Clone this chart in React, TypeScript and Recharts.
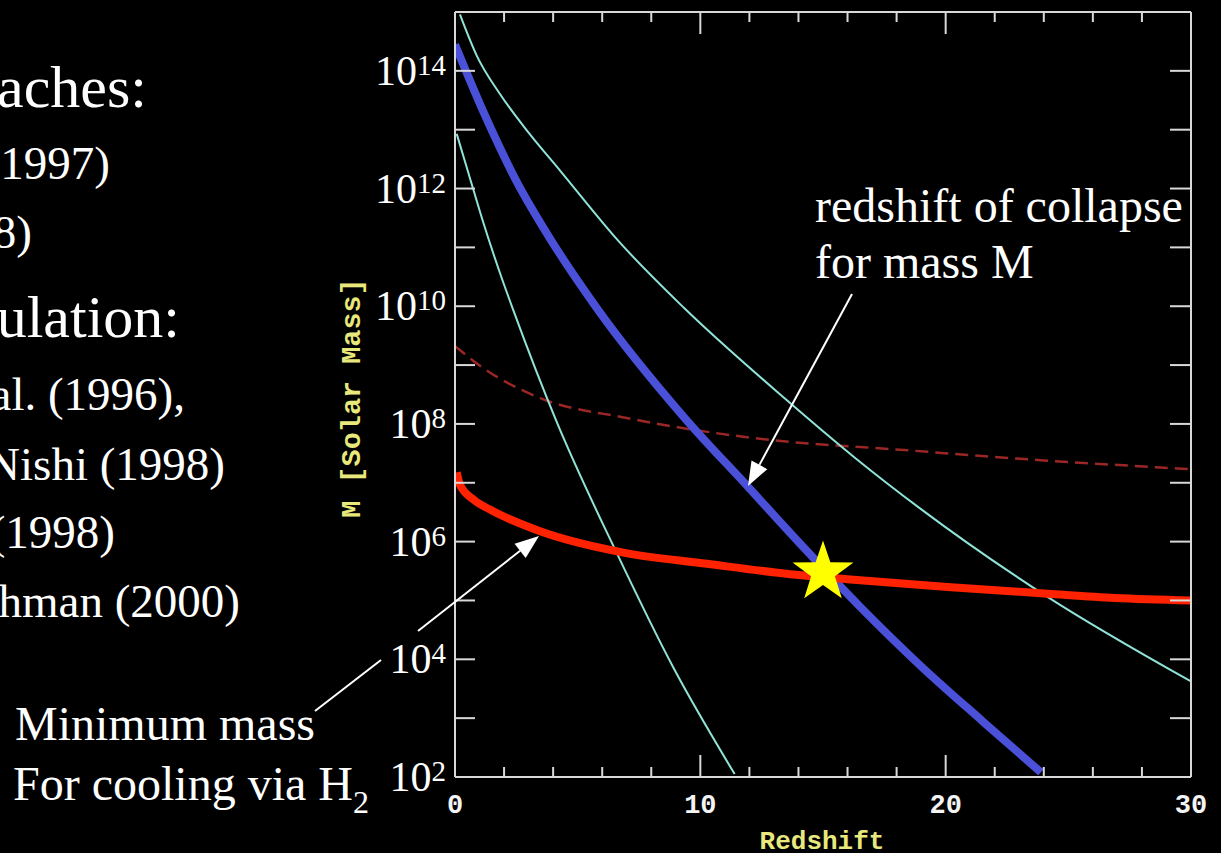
import React from "react";
import { LineChart, Line, XAxis, YAxis, ReferenceDot } from "recharts";

// redshift (z) and mass (solar masses)
const collapseZ = [0, 1.16, 2.52, 3.88, 5.78, 9.32, 11.97, 14.08, 16.5, 19, 21.5, 23.88];
const collapseM = [2.8e14, 2.0e13, 1.3e12, 1.4e11, 9.3e9, 1.32e8, 8.3e6, 9.1e5, 7.9e4, 7.6e3, 890, 120];

const cyanHighZ = [0.2, 0.89, 1.84, 3.0, 4.29, 6.65, 9.32, 13.54, 16.26, 18.98, 24.15, 30];
const cyanHighM = [9.1e14, 1.8e14, 4.0e13, 8.9e12, 2.0e12, 1.3e11, 9.5e9, 2.5e8, 2.75e7, 3.6e6, 1.15e5, 4.2e3];

const cyanLowZ = [0.07, 0.61, 1.16, 1.84, 2.38, 4.15, 6.6, 8.91, 11.4];
const cyanLowM = [8.5e12, 1.5e12, 2.6e11, 3.6e10, 8.5e9, 1.07e8, 6.3e5, 7.1e3, 112];

const dashedZ = [0, 1.15, 3.47, 7.0, 12.18, 18.7, 24, 30];
const dashedM = [2.1e9, 8.9e8, 2.75e8, 1.26e8, 5.75e7, 3.5e7, 2.4e7, 1.7e7];

const minMassZ = [0.07, 0.2, 0.75, 1.43, 3.47, 6.87, 10.27, 13.67, 15.99, 20.07, 24.15, 26.9, 30];
const minMassM = [1.5e7, 9.3e6, 5.2e6, 3.5e6, 1.5e6, 6.5e5, 4.2e5, 2.8e5, 2.3e5, 1.7e5, 1.3e5, 1.1e5, 1.0e5];

const starZ = 15.0;
const starM = 3.0e5;

const zTicks = [0, 2, 4, 6, 8, 10, 12, 14, 16, 18, 20, 22, 24, 26, 28, 30];
const massTicks = [1e2, 1e3, 1e4, 1e5, 1e6, 1e7, 1e8, 1e9, 1e10, 1e11, 1e12, 1e13, 1e14];

const rows = (zs: number[], ms: number[]) => zs.map((z, i) => ({ z, m: ms[i] }));

const AXIS = "#d8d8d8";
const SERIF = "'Liberation Serif', 'Times New Roman', serif";
const MONO = "'Liberation Mono', 'Courier New', monospace";
const YELLOW = "#e8e87c";

const LeftTick = ({ x, y, payload }: any) => {
  const exp = Math.round(Math.log10(payload.value));
  return (
    <g>
      <line x1={x} x2={x + 20} y1={y} y2={y} stroke={AXIS} strokeWidth={2} />
      {exp % 2 === 0 && (
        <text x={x - 9} y={y + 14} textAnchor="end" fill="#fff" fontFamily={SERIF} fontSize={42}>
          10
          <tspan dy={-10} fontSize={29}>
            {exp}
          </tspan>
        </text>
      )}
    </g>
  );
};

const RightTick = ({ x, y }: any) => (
  <line x1={x - 21} x2={x} y1={y} y2={y} stroke={AXIS} strokeWidth={2} />
);

const BottomTick = ({ x, y, payload }: any) => {
  const major = payload.value % 10 === 0;
  return (
    <g>
      <line x1={x} x2={x} y1={y} y2={y - (major ? 22 : 10)} stroke={AXIS} strokeWidth={2} />
      {major && (
        <text x={x} y={y + 36} textAnchor="middle" fill="#f4f4f4" fontFamily={MONO} fontWeight="bold" fontSize={27}>
          {payload.value}
        </text>
      )}
    </g>
  );
};

const TopTick = ({ x, y, payload }: any) => {
  const major = payload.value % 10 === 0;
  return <line x1={x} x2={x} y1={y} y2={y + (major ? 22 : 10)} stroke={AXIS} strokeWidth={2} />;
};

const Star = ({ cx, cy }: any) => {
  const pts = Array.from({ length: 10 }, (_, i) => {
    const a = -Math.PI / 2 + (i * Math.PI) / 5;
    const r = i % 2 === 0 ? 32 : 12.5;
    return `${cx + r * Math.cos(a)},${cy + r * Math.sin(a)}`;
  }).join(" ");
  return <polygon points={pts} fill="#ffff00" />;
};

const Arrow = ({ x1, y1, x2, y2 }: any) => {
  const len = Math.hypot(x2 - x1, y2 - y1);
  const ux = (x2 - x1) / len;
  const uy = (y2 - y1) / len;
  const bx = x2 - ux * 24;
  const by = y2 - uy * 24;
  const head = `${x2},${y2} ${bx - uy * 9},${by + ux * 9} ${bx + uy * 9},${by - ux * 9}`;
  return (
    <g>
      <line x1={x1} y1={y1} x2={bx} y2={by} stroke="#fff" strokeWidth={2} />
      <polygon points={head} fill="#fff" />
    </g>
  );
};

// slide text left of the plot, cut off at the page edge
const slideLines = [
  { text: "aches:", right: 147, base: 107, size: 60 },
  { text: "1997)", right: 110, base: 179, size: 47 },
  { text: "8)", right: 32, base: 248, size: 47 },
  { text: "ulation:", right: 180, base: 337, size: 60 },
  { text: "al. (1996),", right: 185, base: 410, size: 47 },
  { text: "Nishi (1998)", right: 225, base: 480, size: 47 },
  { text: "(1998)", right: 115, base: 548, size: 47 },
  { text: "hman (2000)", right: 240, base: 617, size: 47 },
];

export default function App() {
  return (
    <div style={{ position: "absolute", left: 0, top: 0, width: 1221, height: 853, background: "#000", overflow: "hidden" }}>
      <LineChart width={1221} height={853} margin={{ top: 0, right: 0, bottom: 0, left: 355 }}>
        <XAxis
          xAxisId="b"
          dataKey="z"
          type="number"
          domain={[0, 30]}
          ticks={zTicks}
          interval={0}
          allowDataOverflow
          height={76}
          tickSize={0}
          tickMargin={0}
          axisLine={{ stroke: AXIS, strokeWidth: 2 }}
          tickLine={false}
          tick={<BottomTick />}
        />
        <XAxis
          xAxisId="t"
          orientation="top"
          dataKey="z"
          type="number"
          domain={[0, 30]}
          ticks={zTicks}
          interval={0}
          allowDataOverflow
          height={12}
          tickSize={0}
          tickMargin={0}
          axisLine={{ stroke: AXIS, strokeWidth: 2 }}
          tickLine={false}
          tick={<TopTick />}
        />
        <YAxis
          yAxisId="l"
          type="number"
          scale="log"
          domain={[1e2, 1e15]}
          ticks={massTicks}
          interval={0}
          allowDataOverflow
          width={100}
          tickSize={0}
          tickMargin={0}
          axisLine={{ stroke: AXIS, strokeWidth: 2 }}
          tickLine={false}
          tick={<LeftTick />}
        />
        <YAxis
          yAxisId="r"
          orientation="right"
          type="number"
          scale="log"
          domain={[1e2, 1e15]}
          ticks={massTicks}
          interval={0}
          allowDataOverflow
          width={30}
          tickSize={0}
          tickMargin={0}
          axisLine={{ stroke: AXIS, strokeWidth: 2 }}
          tickLine={false}
          tick={<RightTick />}
        />
        <Line
          xAxisId="b"
          yAxisId="l"
          data={rows(dashedZ, dashedM)}
          dataKey="m"
          type="monotone"
          stroke="#9a2626"
          strokeWidth={2.5}
          strokeDasharray="13 7"
          dot={false}
          isAnimationActive={false}
        />
        <Line
          xAxisId="b"
          yAxisId="l"
          data={rows(cyanHighZ, cyanHighM)}
          dataKey="m"
          type="monotone"
          stroke="#8fe3d8"
          strokeWidth={2}
          dot={false}
          isAnimationActive={false}
        />
        <Line
          xAxisId="b"
          yAxisId="l"
          data={rows(cyanLowZ, cyanLowM)}
          dataKey="m"
          type="monotone"
          stroke="#8fe3d8"
          strokeWidth={2}
          dot={false}
          isAnimationActive={false}
        />
        <Line
          xAxisId="b"
          yAxisId="l"
          data={rows(collapseZ, collapseM)}
          dataKey="m"
          type="monotone"
          stroke="#4a50d8"
          strokeWidth={8}
          dot={false}
          isAnimationActive={false}
        />
        <Line
          xAxisId="b"
          yAxisId="l"
          data={rows(minMassZ, minMassM)}
          dataKey="m"
          type="monotone"
          stroke="#ff2200"
          strokeWidth={8}
          dot={false}
          isAnimationActive={false}
        />
        <ReferenceDot
          xAxisId="b"
          yAxisId="l"
          x={starZ}
          y={starM}
          r={32}
          shape={(p: any) => <Star cx={p.cx} cy={p.cy} />}
        />
      </LineChart>
      <svg
        width={1221}
        height={853}
        style={{ position: "absolute", left: 0, top: 0, pointerEvents: "none" }}
      >
        {slideLines.map((l) => (
          <text key={l.text} x={l.right} y={l.base} textAnchor="end" fill="#fff" fontFamily={SERIF} fontSize={l.size}>
            {l.text}
          </text>
        ))}
        <text x={815} y={222} fill="#fff" fontFamily={SERIF} fontSize={48}>
          redshift of collapse
        </text>
        <text x={815} y={278} fill="#fff" fontFamily={SERIF} fontSize={48}>
          for mass M
        </text>
        <Arrow x1={852} y1={294} x2={748} y2={486} />
        <text x={15} y={740} fill="#fff" fontFamily={SERIF} fontSize={48}>
          Minimum mass
        </text>
        <text x={13} y={800} fill="#fff" fontFamily={SERIF} fontSize={48}>
          For cooling via H
          <tspan dy={13} fontSize={32}>
            2
          </tspan>
        </text>
        <line x1={315} y1={711} x2={381} y2={660} stroke="#fff" strokeWidth={2} />
        <Arrow x1={418} y1={631} x2={539} y2={536} />
        <text
          x={352}
          y={398}
          transform="rotate(-90 352 398)"
          textAnchor="middle"
          dominantBaseline="central"
          fill={YELLOW}
          fontFamily={MONO}
          fontWeight="bold"
          fontSize={28.5}
        >
          M [Solar Mass]
        </text>
        <text x={822} y={849} textAnchor="middle" fill={YELLOW} fontFamily={MONO} fontWeight="bold" fontSize={26}>
          Redshift
        </text>
      </svg>
    </div>
  );
}
